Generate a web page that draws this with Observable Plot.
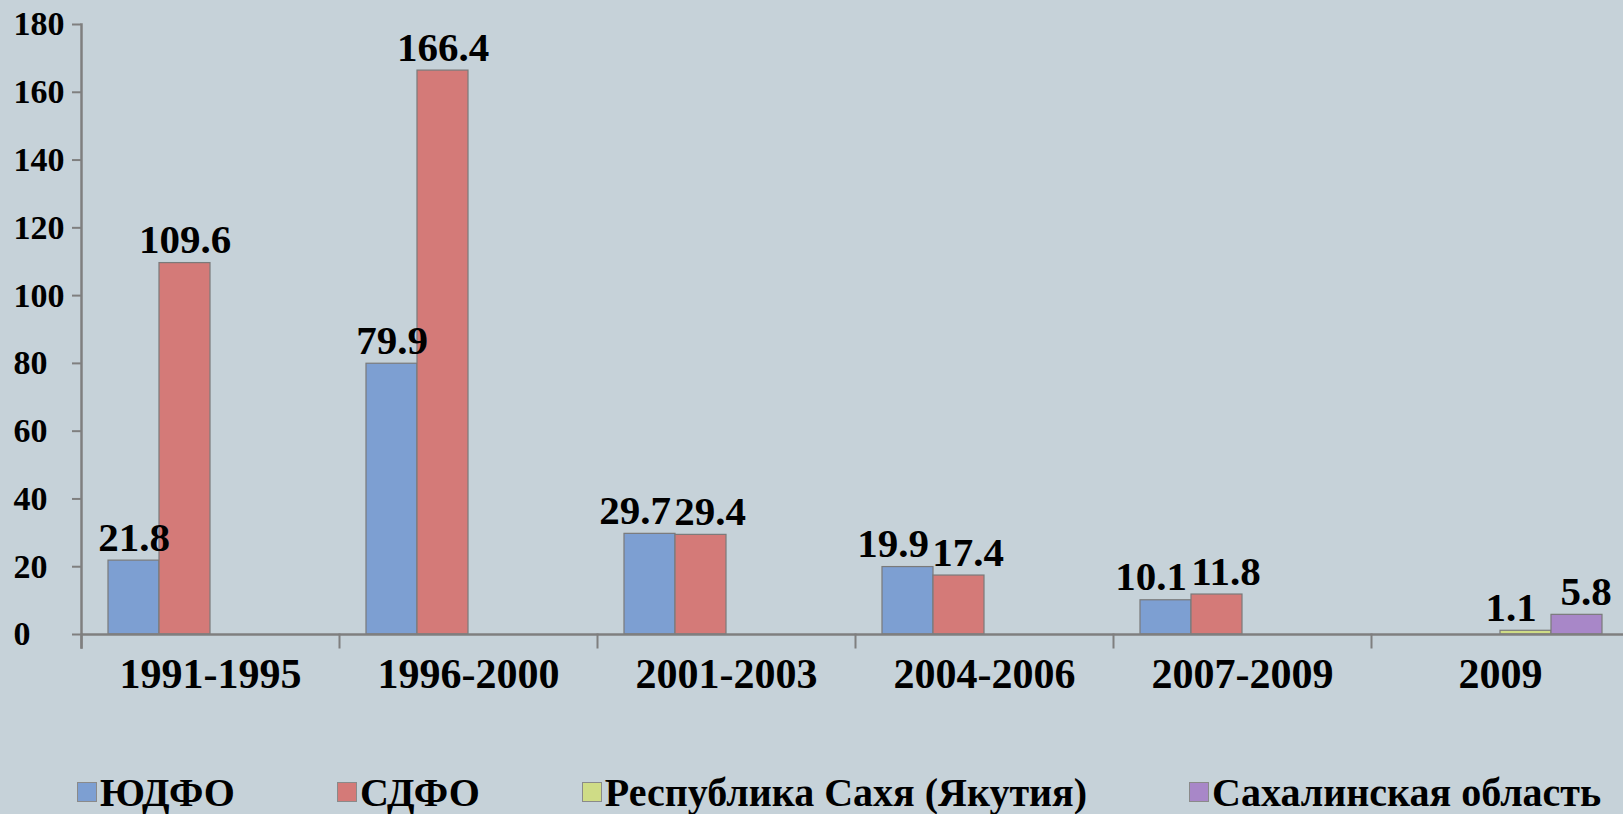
<!DOCTYPE html>
<html>
<head>
<meta charset="utf-8">
<script src="https://cdn.jsdelivr.net/npm/d3@7"></script>
<script src="https://cdn.jsdelivr.net/npm/@observablehq/plot@0.6"></script>
<style>
  html, body { margin: 0; padding: 0; background: #c6d2d9; }
  body { width: 1623px; height: 814px; overflow: hidden; font-family: "Liberation Serif", "Times New Roman", serif; }
  #legend { display: flex; align-items: center; height: 40px; margin-top: 32px; padding-left: 77px; gap: 102px;
    font-size: 40px; font-weight: bold; color: #000; white-space: nowrap; }
  .item { display: flex; align-items: center; gap: 3px; }
  .sw { width: 18px; height: 18px; border: 1px solid #8a8a8a; box-sizing: content-box; }
</style>
</head>
<body>
<div id="chart"></div>
<div id="legend"></div>
<script>
const periods = ["1991-1995", "1996-2000", "2001-2003", "2004-2006", "2007-2009", "2009"];
const series = ["ЮДФО", "СДФО", "Республика Сахя (Якутия)", "Сахалинская область"];
const udfo = [21.8, 79.9, 29.7, 19.9, 10.1, null];
const sdfo = [109.6, 166.4, 29.4, 17.4, 11.8, null];
const sakha = [null, null, null, null, null, 1.1];
const sakhalin = [null, null, null, null, null, 5.8];
const yTicks = [0, 20, 40, 60, 80, 100, 120, 140, 160, 180];
const colors = ["#7d9fd2", "#d47a78", "#cfdc86", "#a887c8"];

const valuesBySeries = [udfo, sdfo, sakha, sakhalin];
const table = [];
series.forEach((s, si) => {
  valuesBySeries[si].forEach((v, pi) => {
    if (v != null) {
      // labels of neighbouring bars with similar heights would collide: nudge them apart
      const left = si > 0 ? valuesBySeries[si - 1][pi] : null;
      const right = si < series.length - 1 ? valuesBySeries[si + 1][pi] : null;
      const crowdRight = right != null && Math.abs(right - v) < 12;
      const crowdLeft = left != null && Math.abs(left - v) < 12;
      table.push({period: periods[pi], series: s, value: v,
        nudge: crowdRight ? "left" : crowdLeft ? "right" : "none"});
    }
  });
});

const font = "Liberation Serif, Times New Roman, serif";
const labelOpts = {fx: "period", x: "series", y: "value", text: d => d.value.toFixed(1),
  lineAnchor: "bottom", dy: -10, fontSize: 41, fontWeight: "bold", fill: "#000"};

const chart = Plot.plot({
  width: 1623,
  height: 740,
  marginTop: 24,
  marginBottom: 106,
  marginLeft: 80,
  marginRight: -6,
  style: {background: "#c6d2d9", fontFamily: font, color: "#000", overflow: "visible"},
  fx: {domain: periods, paddingInner: 0, paddingOuter: 0},
  x: {domain: series, paddingInner: 0, paddingOuter: 0.5, axis: null},
  y: {domain: [0, 180], axis: null},
  color: {domain: series, range: colors},
  marks: [
    Plot.barY(table, {fx: "period", x: "series", y: "value", fill: "series", stroke: "#7a7a7a", strokeWidth: 1.2, inset: 0}),
    Plot.ruleY([0], {stroke: "#7f7f7f", strokeWidth: 2.5}),
    Plot.frame({anchor: "left", facetAnchor: "left", insetBottom: -13, stroke: "#7f7f7f", strokeWidth: 2.5}),
    Plot.frame({anchor: "left", insetTop: 610, insetBottom: -13, stroke: "#7f7f7f", strokeWidth: 2}),
    Plot.axisY(yTicks, {anchor: "left", tickSize: 9, tickPadding: 59, textAnchor: "start", fontSize: 34, fontWeight: "bold", stroke: "#7f7f7f", strokeWidth: 2, fill: "#000", label: null}),
    Plot.axisFx({anchor: "bottom", tickSize: 0, tickPadding: 24, fontSize: 42, fontWeight: "bold", fill: "#000", label: null}),
    Plot.text(table.filter(d => d.nudge === "none"), labelOpts),
    Plot.text(table.filter(d => d.nudge === "left"), {...labelOpts, dx: -15}),
    Plot.text(table.filter(d => d.nudge === "right"), {...labelOpts, dx: 9})
  ]
});
document.getElementById("chart").appendChild(chart);

const legend = document.getElementById("legend");
series.forEach((s, i) => {
  const item = document.createElement("div");
  item.className = "item";
  const sw = document.createElement("span");
  sw.className = "sw";
  sw.style.background = colors[i];
  const t = document.createElement("span");
  t.textContent = s;
  item.appendChild(sw);
  item.appendChild(t);
  legend.appendChild(item);
});
</script>
</body>
</html>
